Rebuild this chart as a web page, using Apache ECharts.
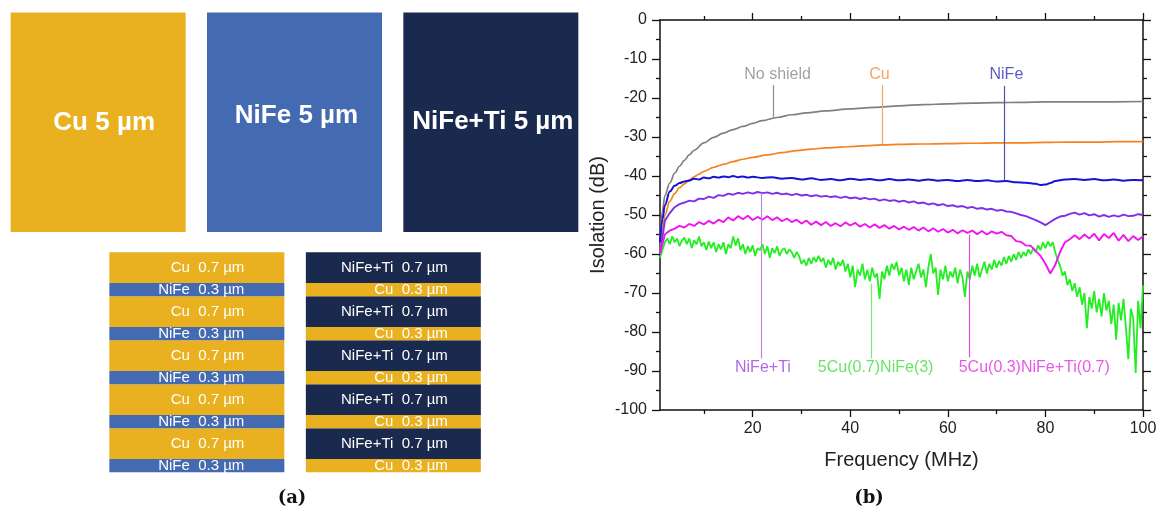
<!DOCTYPE html>
<html>
<head>
<meta charset="utf-8">
<script src="https://cdn.jsdelivr.net/npm/echarts@6/dist/echarts.min.js"></script>
<style>
  html, body { margin: 0; padding: 0; background: #fff; }
  #chart { width: 1162px; height: 513px; }
</style>
</head>
<body>
<div id="chart"></div>
<script>
// (a) single layers, thickness in µm
const blockMaterials = ['Cu', 'NiFe', 'NiFe+Ti']
const blockThickness = [5, 5, 5]

// (a) multilayers, listed top to bottom
const stackLeftMaterials = ['Cu', 'NiFe', 'Cu', 'NiFe', 'Cu', 'NiFe', 'Cu', 'NiFe', 'Cu', 'NiFe']
const stackLeftThickness = [0.7, 0.3, 0.7, 0.3, 0.7, 0.3, 0.7, 0.3, 0.7, 0.3]
const stackRightMaterials = ['NiFe+Ti', 'Cu', 'NiFe+Ti', 'Cu', 'NiFe+Ti', 'Cu', 'NiFe+Ti', 'Cu', 'NiFe+Ti', 'Cu']
const stackRightThickness = [0.7, 0.3, 0.7, 0.3, 0.7, 0.3, 0.7, 0.3, 0.7, 0.3]

// (b) isolation (dB) vs frequency (MHz)
const noShield = [[1, -56], [1.5, -49], [2, -45], [3, -41.8], [4, -39.3], [5, -37.5], [6, -36], [7, -34.6], [8, -33.4],
  [10, -31.5], [12, -30.1], [14, -29], [16, -28.1], [18, -27.3], [20, -26.5], [22, -25.8], [25, -25], [28, -24.3],
  [31, -23.8], [35, -23.3], [40, -22.8], [45, -22.4], [50, -22], [55, -21.7], [60, -21.5], [65, -21.3], [70, -21.2],
  [75, -21.1], [80, -21], [90, -21], [100, -20.9]]
const cuShield = [[1, -60], [1.5, -54], [2, -50], [3, -46.5], [4, -44.5], [5, -43], [6, -42], [7, -41], [8, -40.2],
  [9, -39.5], [10, -38.8], [12, -37.8], [14, -37], [16, -36.3], [18, -35.7], [20, -35.2], [23, -34.6], [26, -34],
  [29, -33.5], [32, -33.1], [35, -32.8], [38, -32.6], [41, -32.4], [44, -32.2], [47, -32], [50, -31.9], [55, -31.8],
  [60, -31.7], [65, -31.6], [70, -31.5], [75, -31.5], [80, -31.4], [85, -31.3], [90, -31.3], [95, -31.2], [100, -31.2]]
const nifeShield = [[1, -57], [1.5, -51], [2, -47.5], [3, -44], [4, -42.5], [5, -41.8], [6, -41.4], [7, -41.2], [8, -40.7],
  [9, -40.9], [10, -40.4], [11, -40.6], [12, -40.2], [13, -40.4], [14, -40.1], [15, -40.3], [16, -40], [17, -40.3],
  [18, -40.1], [19, -40.4], [20, -40.2], [22, -40.5], [24, -40.3], [26, -40.7], [28, -40.5], [30, -40.9], [32, -40.6],
  [34, -41], [36, -40.8], [38, -41.1], [40, -40.7], [42, -41], [44, -40.8], [46, -41.1], [48, -40.8], [50, -41.1],
  [52, -40.9], [54, -41.2], [56, -40.9], [58, -41.2], [60, -41], [62, -41.3], [64, -41], [66, -41.3], [68, -41.1],
  [70, -41.4], [72, -41.3], [74, -41.6], [76, -41.7], [78, -42], [79, -42.3], [80, -42.2], [81, -41.8], [82, -41.3],
  [84, -40.9], [86, -40.8], [88, -41], [90, -40.8], [92, -41.1], [94, -40.9], [96, -41.2], [98, -41], [100, -41.1]]
// one value per MHz, 1..100
const nifeTiShield = [-60, -51.5, -49.5, -48, -47.2, -46.8, -46.3, -46.5, -45.8, -45.9,
  -45.3, -45.6, -44.9, -45.1, -44.5, -44.8, -44.3, -44.6, -44.2, -44.5,
  -44.1, -44.4, -44.2, -44.6, -44.3, -44.7, -44.5, -44.9, -44.6, -45,
  -44.8, -45.2, -44.9, -45.3, -45.1, -45.4, -45.2, -45.6, -45.3, -45.7,
  -45.5, -45.9, -45.6, -46, -45.8, -46.3, -46, -46.4, -46.2, -46.6,
  -46.3, -46.8, -46.5, -47, -46.8, -47.3, -47, -47.5, -47.2, -47.7,
  -47.5, -47.9, -47.7, -48.2, -47.9, -48.4, -48.2, -48.6, -48.4, -48.9,
  -48.7, -49.1, -49.2, -49.6, -50, -50.3, -50.8, -51.3, -51.9, -52.6,
  -51.8, -51, -50.4, -50.2, -49.7, -49.4, -49.9, -49.5, -50.1, -49.8,
  -50.4, -50, -50.5, -50.1, -50.4, -49.9, -50.3, -50.2, -49.8, -50]
// one value per MHz, 1..100
const cuNifeTiShield = [-60, -55, -54, -53.5, -52.8, -53.2, -52.3, -52.8, -51.8, -52.4,
  -51.5, -52.2, -51.2, -51.8, -50.6, -51.4, -50.3, -51.1, -50.2, -51.3,
  -50.5, -51.2, -50.3, -51.3, -50.6, -51.6, -50.9, -51.8, -51.2, -52.2,
  -51.4, -52.5, -51.7, -52.6, -51.8, -52.8, -52.1, -52.9, -51.9, -52.7,
  -52, -53, -52.3, -53.2, -52.4, -53.3, -52.6, -53.5, -52.8, -53.7,
  -53, -53.8, -53.1, -54, -53.2, -54.2, -53.4, -54.3, -53.6, -54.5,
  -53.8, -54.7, -53.9, -54.6, -54, -54.9, -54.1, -55, -54.2, -54.8,
  -54.3, -55.2, -55.4, -56.7, -56.9, -57.8, -57.9, -59.2, -60.5, -62.5,
  -65, -62.8, -59.5, -57, -56.2, -55.2, -56.2, -55, -56, -54.8,
  -56.5, -54.9, -55.9, -54.6, -56.6, -55.1, -56.7, -55.4, -56.4, -55.5]
// one value per 0.5 MHz, 1..100
const cuNifeShield = [-61, -59, -57, -56, -57.5, -55.5, -57, -56, -58, -56.5,
  -55.8, -57.5, -56, -58.5, -56.5, -57.5, -55.5, -58, -57, -59,
  -56.8, -58.5, -57, -59.5, -57.5, -58.8, -57, -60, -57.5, -58.5,
  -55.5, -57.8, -56, -59, -57.5, -60, -58, -59.5, -57.8, -60.5,
  -58.5, -59, -57.5, -60, -58, -61, -58.5, -59.8, -58, -60.5,
  -59, -58.5, -60, -58.8, -59.5, -61, -59.5, -60.5, -62.5, -61.5,
  -63, -61, -62.5, -60.8, -62, -60.5, -62, -61, -63.5, -61.5,
  -62.8, -61, -64, -62, -63, -61.5, -64.5, -62.5, -66, -63,
  -68.5, -64, -65.5, -62.5, -66.5, -64, -67, -63.5, -66, -65,
  -71.5, -64.5, -66.5, -63, -65.5, -62.5, -64, -62, -65.5, -63.5,
  -67, -64, -68, -63.5, -66.5, -64.5, -62.5, -66, -64, -68.5,
  -63.5, -60, -65, -63.5, -70.5, -64, -66.5, -63, -67, -64.5,
  -66, -63.5, -67.5, -64, -66, -71, -64.5, -66.5, -63, -65.5,
  -62.5, -66, -64, -62, -65, -62.5, -64, -61.5, -63.5, -61.8,
  -63, -60.8, -62.5, -60.5, -62, -60, -61.5, -59.5, -61, -59.5,
  -60.5, -58.8, -60, -58.5, -59.5, -57.8, -59, -57, -58.5, -56.8,
  -58, -57, -59.5, -61.5, -63, -65.5, -64.5, -68, -66.5, -69.5,
  -67.5, -71, -68.5, -73, -70, -79, -71, -74, -69.5, -75,
  -71.5, -76, -70, -74.5, -72, -78, -73, -82, -72.5, -77,
  -71.5, -79, -87, -74, -76.5, -90.5, -72, -79, -68]

const freqMajor = [20, 40, 60, 80, 100]
const freqMinor = [10, 30, 50, 70, 90]

// curve labels: text centre, then leader x and its two ends (all in axis units)
const notes = [
  { text: 'No shield', x: 25.1, y: -14.1, lineX: 24.2, from: -16.7, to: -25.0 },
  { text: 'Cu', x: 46, y: -14.1, lineX: 46.5, from: -16.7, to: -31.8 },
  { text: 'NiFe', x: 72, y: -14.1, lineX: 71.5, from: -16.9, to: -41 },
  { text: 'NiFe+Ti', x: 22.1, y: -89, lineX: 21.7, from: -86.8, to: -44.3 },
  { text: '5Cu(0.7)NiFe(3)', x: 45.2, y: -89, lineX: 44.4, from: -86.8, to: -67.6 },
  { text: '5Cu(0.3)NiFe+Ti(0.7)', x: 77.7, y: -89, lineX: 64.4, from: -86.5, to: -55 }
]

const materialColor = { 'Cu': '#E9B11F', 'NiFe': '#446AB1', 'NiFe+Ti': '#1A2A4E' }
const traceColor = ['#808080', '#F5821F', '#1414D2', '#7E30E6', '#22EE22', '#F014F0']
const traceWidth = [1.7, 1.7, 2, 1.9, 1.8, 1.9]
const noteColor = ['#8a8a8a', '#F09030', '#3535B0', '#9A45E0', '#40DD40', '#E030E0']
const leaderColor = ['#8c8c8c', '#F0AA60', '#5050B5', '#B88AE0', '#7AE87A', '#E050E0']

const chart = echarts.init(document.getElementById('chart'))

const axisColor = '#111'

const blockOffsets = [[6, 1], [2, -6], [2, 0]]
const blockSeries = {
  type: 'bar',
  xAxisIndex: 0,
  yAxisIndex: 0,
  barWidth: 175,
  silent: true,
  data: blockMaterials.map((m, i) => ({
    value: blockThickness[i],
    itemStyle: { color: materialColor[m] },
    label: { offset: blockOffsets[i] }
  })),
  label: {
    show: true,
    position: 'inside',
    color: '#fff',
    fontSize: 26,
    fontWeight: 'bold',
    formatter: p => blockMaterials[p.dataIndex] + ' ' + blockThickness[p.dataIndex] + ' µm'
  }
}

// stacked bars are built bottom-up, so walk the layer lists from the end
const layerSeries = []
const nLayers = stackLeftMaterials.length
for (let k = 0; k < nLayers; k++) {
  const i = nLayers - 1 - k
  const names = [stackLeftMaterials[i], stackRightMaterials[i]]
  const thick = [stackLeftThickness[i], stackRightThickness[i]]
  layerSeries.push({
    type: 'bar',
    stack: 'layers',
    xAxisIndex: 1,
    yAxisIndex: 1,
    barWidth: 175,
    silent: true,
    data: [
      { value: thick[0], itemStyle: { color: materialColor[names[0]] }, label: { offset: [-7, 0] } },
      { value: thick[1], itemStyle: { color: materialColor[names[1]] } }
    ],
    label: {
      show: true,
      position: 'insideRight',
      distance: 33,
      color: '#fff',
      fontSize: 15,
      formatter: p => names[p.dataIndex] + '  ' + thick[p.dataIndex] + ' µm'
    }
  })
}

const traces = [
  noShield,
  cuShield,
  nifeShield,
  nifeTiShield.map((v, i) => [1 + i, v]),
  cuNifeShield.map((v, i) => [1 + i * 0.5, v]),
  cuNifeTiShield.map((v, i) => [1 + i, v])
]
const traceSeries = traces.map((d, i) => ({
  type: 'line',
  name: notes[i].text,
  xAxisIndex: 2,
  yAxisIndex: 2,
  data: d,
  showSymbol: false,
  smooth: i < 3 ? 0.35 : false,
  smoothMonotone: 'x',
  lineStyle: { color: traceColor[i], width: traceWidth[i] },
  color: traceColor[i],
  silent: true,
  markLine: {
    silent: true,
    symbol: ['none', 'none'],
    label: { show: false },
    lineStyle: { color: leaderColor[i], width: 1.2, type: 'solid' },
    data: [[{ coord: [notes[i].lineX, notes[i].from] }, { coord: [notes[i].lineX, notes[i].to] }]]
  }
}))

const noteSeries = {
  type: 'scatter',
  xAxisIndex: 2,
  yAxisIndex: 2,
  symbolSize: 1,
  silent: true,
  itemStyle: { color: 'transparent' },
  data: notes.map((n, i) => ({ value: [n.x, n.y], label: { color: noteColor[i] } })),
  label: {
    show: true,
    position: 'inside',
    fontSize: 16,
    formatter: p => notes[p.dataIndex].text
  },
  z: 5
}

const tickStyle = { color: axisColor, width: 1.3 }
const freqAxis = (position, ticks, len, line, labels) => ({
  gridIndex: 2,
  type: 'value',
  min: 1,
  max: 100,
  position: position,
  axisLine: { show: line, onZero: false, lineStyle: { color: axisColor, width: 1.5 } },
  axisTick: { show: true, customValues: ticks, length: len, lineStyle: tickStyle },
  axisLabel: labels
    ? { show: true, customValues: ticks, fontSize: 16, color: '#222', margin: 11 }
    : { show: false },
  splitLine: { show: false }
})
const dbAxis = (position, labels) => ({
  gridIndex: 2,
  type: 'value',
  min: -100,
  max: 0,
  interval: 10,
  position: position,
  axisLine: { show: true, onZero: false, lineStyle: { color: axisColor, width: 1.5 } },
  axisTick: { show: true, length: 8, lineStyle: tickStyle },
  minorTick: { show: true, splitNumber: 2, length: 4, lineStyle: tickStyle },
  axisLabel: labels ? { show: true, fontSize: 16, color: '#222', margin: 13 } : { show: false },
  splitLine: { show: false }
})

const xMain = freqAxis('bottom', freqMajor, 7, true, true)
xMain.name = 'Frequency (MHz)'
xMain.nameLocation = 'middle'
xMain.nameGap = 40
xMain.nameTextStyle = { fontSize: 20, color: '#222' }

const yMain = dbAxis('left', true)
yMain.name = 'Isolation (dB)'
yMain.nameLocation = 'middle'
yMain.nameGap = 52
yMain.nameTextStyle = { fontSize: 20, color: '#222' }

chart.setOption({
  animation: false,
  textStyle: { fontFamily: 'Arial, "Liberation Sans", sans-serif' },
  title: [
    { text: '(a)', left: 292, top: 489, textAlign: 'center', padding: 0,
      textStyle: { fontFamily: '"DejaVu Serif", serif', fontWeight: 'bold', fontSize: 18, color: '#111' } },
    { text: '(b)', left: 869, top: 489, textAlign: 'center', padding: 0,
      textStyle: { fontFamily: '"DejaVu Serif", serif', fontWeight: 'bold', fontSize: 18, color: '#111' } }
  ],
  grid: [
    { left: -2, top: 12.5, width: 591, height: 219.5 },
    { left: 98.6, top: 252.3, width: 393, height: 220 },
    { left: 660, top: 20, right: 19, bottom: 103 }
  ],
  xAxis: [
    { gridIndex: 0, type: 'category', data: blockMaterials, show: false },
    { gridIndex: 1, type: 'category', data: ['5Cu(0.7)NiFe(0.3)', '5NiFe+Ti(0.7)Cu(0.3)'], show: false },
    xMain,
    freqAxis('bottom', freqMinor, 4, false, false),
    freqAxis('top', freqMajor, 7, true, false),
    freqAxis('top', freqMinor, 4, false, false)
  ],
  yAxis: [
    { gridIndex: 0, type: 'value', min: 0, max: 5, show: false },
    { gridIndex: 1, type: 'value', min: 0, max: 5, show: false },
    yMain,
    dbAxis('right', false)
  ],
  series: [blockSeries, ...layerSeries, ...traceSeries, noteSeries]
})
</script>
</body>
</html>
